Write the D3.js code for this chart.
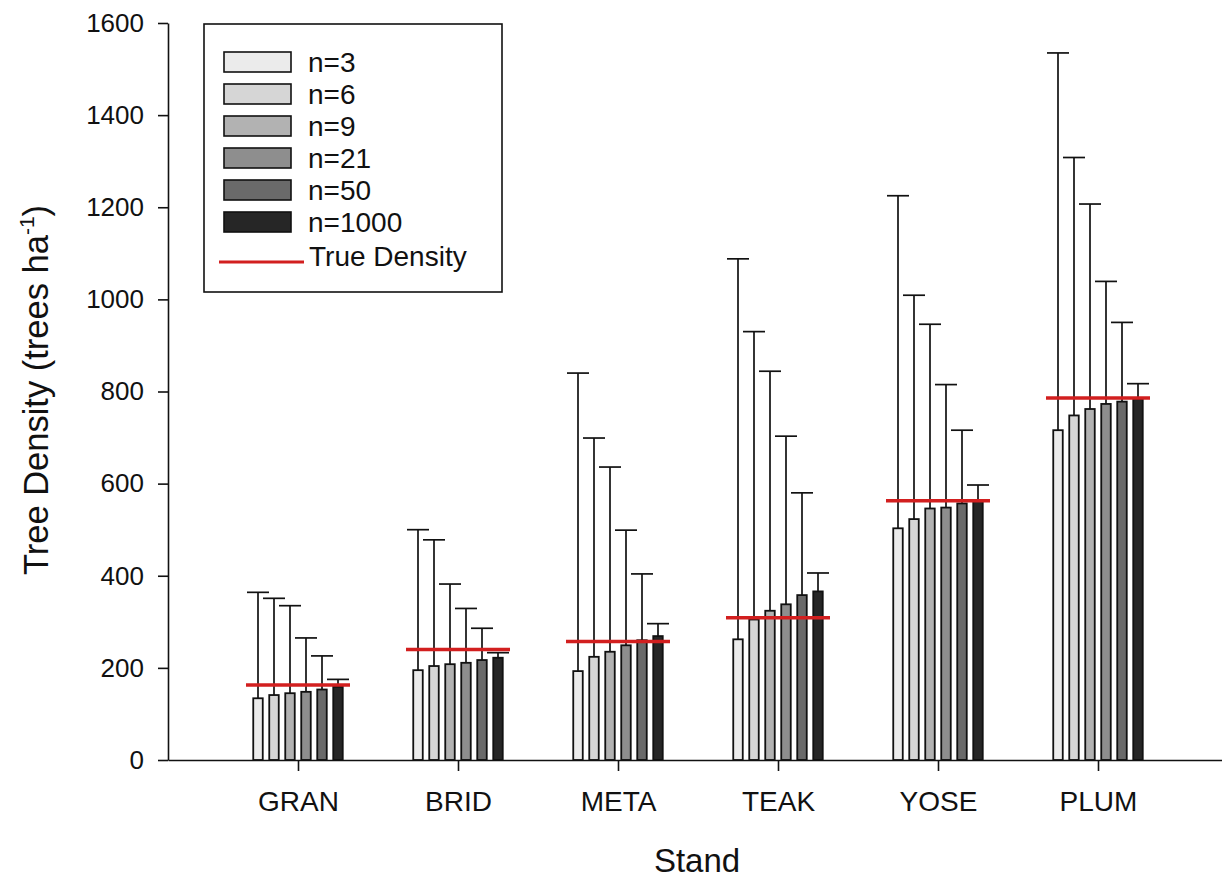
<!DOCTYPE html>
<html>
<head>
<meta charset="utf-8">
<script src="https://cdn.jsdelivr.net/npm/d3@7/dist/d3.min.js"></script>
<style>
  html, body { margin: 0; padding: 0; background: #fff; }
  svg { display: block; font-family: Arial, "Liberation Sans", sans-serif; }
</style>
</head>
<body>
<svg id="chart" width="1222" height="882"></svg>
<script>
// ---------------- data ----------------
const stands = ["GRAN", "BRID", "META", "TEAK", "YOSE", "PLUM"];
const seriesNames = ["n=3", "n=6", "n=9", "n=21", "n=50", "n=1000"];
const seriesColors = ["#ebebeb", "#d6d6d6", "#b2b2b2", "#8e8e8e", "#6a6a6a", "#262626"];

const mean_n3    = [134, 195, 193, 262, 503, 716];
const mean_n6    = [141, 204, 224, 305, 523, 748];
const mean_n9    = [145, 208, 235, 324, 546, 762];
const mean_n21   = [148, 211, 249, 338, 548, 773];
const mean_n50   = [153, 217, 260, 358, 557, 778];
const mean_n1000 = [159, 222, 269, 366, 562, 784];

const err_n3     = [230, 305, 647, 826, 722, 819];
const err_n6     = [210, 274, 475, 625, 486, 560];
const err_n9     = [190, 174, 401, 520, 400, 445];
const err_n21    = [117, 118, 250, 365, 267, 266];
const err_n50    = [73, 69, 144, 222, 159, 172];
const err_n1000  = [16, 11, 27, 40, 35, 33];

const trueDensity = [163, 240, 257, 309, 563, 786];

const yTicks = [0, 200, 400, 600, 800, 1000, 1200, 1400, 1600];
const xTitle = "Stand";
const yTitleMain = "Tree Density (trees ha";
const yTitleSup = "-1";
const yTitleEnd = ")";
const trueLabel = "True Density";

// ---------------- build ----------------
(function () {
const means = [mean_n3, mean_n6, mean_n9, mean_n21, mean_n50, mean_n1000];
const errs  = [err_n3, err_n6, err_n9, err_n21, err_n50, err_n1000];

const rows = [];
seriesNames.forEach((s, si) => {
  stands.forEach((st, ci) => {
    rows.push({ series: s, si, stand: st, mean: means[si][ci], err: errs[si][ci] });
  });
});

const svg = d3.select("#chart");
const pLeft = 168, pRight = 1228, pTop = 23, pBottom = 760;

const x = d3.scalePoint().domain(stands).range([pLeft, pRight]).padding(0.8125);
const xs = d3.scaleBand().domain(seriesNames).range([-48, 48])
  .paddingInner(0.3125).paddingOuter(0.15625);
const y = d3.scaleLinear().domain([0, 1600]).range([pBottom, pTop]);
const color = d3.scaleOrdinal().domain(seriesNames).range(seriesColors);

// error bars (upper only)
const capHalf = 11;
const cx = d => x(d.stand) + xs(d.series) + xs.bandwidth() / 2;
const eb = svg.append("g").attr("stroke", "#111").attr("stroke-width", 1.7);
eb.selectAll("line.v").data(rows).join("line")
  .attr("class", "v")
  .attr("x1", cx).attr("x2", cx)
  .attr("y1", d => y(d.mean))
  .attr("y2", d => y(d.mean + d.err));
eb.selectAll("line.c").data(rows).join("line")
  .attr("class", "c")
  .attr("x1", d => cx(d) - capHalf)
  .attr("x2", d => cx(d) + capHalf)
  .attr("y1", d => y(d.mean + d.err))
  .attr("y2", d => y(d.mean + d.err));

// bars
svg.append("g").selectAll("rect").data(rows).join("rect")
  .attr("x", d => x(d.stand) + xs(d.series) + 0.75)
  .attr("width", xs.bandwidth() - 1.5)
  .attr("y", d => y(d.mean))
  .attr("height", d => y(0) - y(d.mean))
  .attr("fill", d => color(d.series))
  .attr("stroke", "#111")
  .attr("stroke-width", 1.8);

// true density lines
const trueHalf = 52;
svg.append("g").selectAll("line").data(stands).join("line")
  .attr("x1", d => x(d) - trueHalf)
  .attr("x2", d => x(d) + trueHalf)
  .attr("y1", (d, i) => y(trueDensity[i]))
  .attr("y2", (d, i) => y(trueDensity[i]))
  .attr("stroke", "#d21f1f")
  .attr("stroke-width", 3.5);

// axes
const yAxis = svg.append("g").attr("transform", `translate(${pLeft},0)`)
  .call(d3.axisLeft(y).tickValues(yTicks).tickFormat(d3.format("d"))
    .tickSize(10).tickSizeOuter(0).tickPadding(14));
yAxis.selectAll("text").attr("font-size", 26).attr("fill", "#111")
  .attr("font-family", "Arial, 'Liberation Sans', sans-serif");
yAxis.selectAll("line,path").attr("stroke", "#111").attr("stroke-width", 1.6);

const xAxis = svg.append("g").attr("transform", `translate(0,${pBottom})`)
  .call(d3.axisBottom(x).tickSize(11).tickSizeOuter(0).tickPadding(20));
xAxis.selectAll("text").attr("font-size", 28).attr("fill", "#111")
  .attr("font-family", "Arial, 'Liberation Sans', sans-serif");
xAxis.selectAll("line,path").attr("stroke", "#111").attr("stroke-width", 1.6);

// axis titles
svg.append("text")
  .attr("x", 697).attr("y", 872)
  .attr("text-anchor", "middle").attr("font-size", 33).attr("fill", "#111")
  .text(xTitle);

const yt = svg.append("text")
  .attr("transform", "translate(48,390) rotate(-90)")
  .attr("text-anchor", "middle").attr("font-size", 34.5).attr("fill", "#111");
yt.append("tspan").text(yTitleMain);
yt.append("tspan").attr("font-size", 21).attr("dy", -14).text(yTitleSup);
yt.append("tspan").attr("dy", 14).text(yTitleEnd);

// legend
const lg = svg.append("g");
lg.append("rect").attr("x", 204).attr("y", 24).attr("width", 298).attr("height", 268)
  .attr("fill", "#fff").attr("stroke", "#111").attr("stroke-width", 1.6);
const items = lg.selectAll("g.item").data(seriesNames).join("g").attr("class", "item")
  .attr("transform", (d, i) => `translate(0,${52 + i * 32})`);
items.append("rect").attr("x", 224).attr("y", 0).attr("width", 67).attr("height", 20)
  .attr("fill", d => color(d)).attr("stroke", "#111").attr("stroke-width", 1.6);
items.append("text").attr("x", 308).attr("y", 10).attr("dy", "0.36em")
  .attr("font-size", 28).attr("fill", "#111").text(d => d);
lg.append("line").attr("x1", 219).attr("x2", 304).attr("y1", 262).attr("y2", 262)
  .attr("stroke", "#d21f1f").attr("stroke-width", 3);
lg.append("text").attr("x", 309).attr("y", 256).attr("dy", "0.36em")
  .attr("font-size", 28).attr("fill", "#111").text(trueLabel);
})();
</script>
</body>
</html>
